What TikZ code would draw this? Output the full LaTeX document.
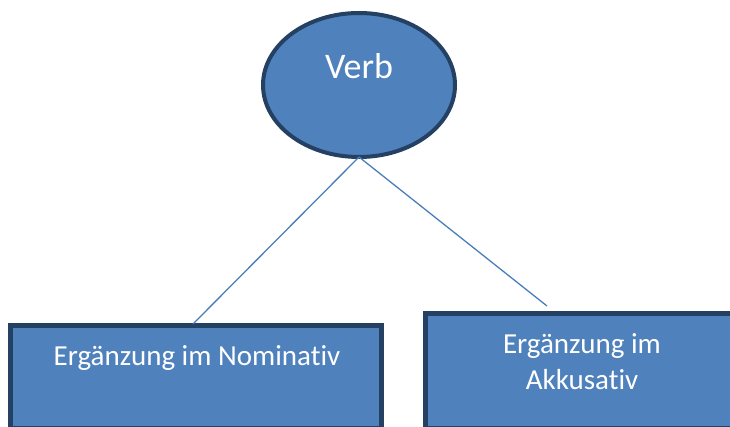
\documentclass[tikz,border=0pt]{standalone}
\usepackage{fontspec}
\setmainfont{Carlito}[Ligatures=NoCommon]
\usetikzlibrary{shapes.geometric}
\definecolor{fillblue}{RGB}{79,129,189}
\definecolor{edgeblue}{RGB}{36,64,98}
\definecolor{lineblue}{RGB}{74,126,187}
\newcommand{\nolig}{\kern0pt }
\begin{document}
\begin{tikzpicture}[x=1pt,y=-1pt,
  shapebox/.style={draw=edgeblue, fill=fillblue, inner sep=0pt, outer sep=0pt},
  lbl/.style={text=white, inner sep=0pt, anchor=base},
  connector/.style={draw=lineblue, line width=1.3pt}]
\useasboundingbox (0,0) rectangle (730,427);
\begin{scope}
\clip (0,0) rectangle (730,427);
\node[shapebox, ellipse, line width=4pt, minimum width=192pt, minimum height=144pt] (verb) at (359,85) {};
\coordinate (akkend) at (547,306);
\coordinate (nomjoin) at (193,324);
\node[shapebox, rectangle, line width=5pt, minimum width=371pt, minimum height=103pt] (nom) at (196,377) {};
\node[shapebox, rectangle, line width=5pt, minimum width=374.5pt, minimum height=115pt] (akk) at (612.75,371) {};
\draw[connector] (verb.south) -- (nomjoin);
\draw[connector] (verb.south) -- (akkend);
\node[lbl, font=\fontsize{36}{43}\selectfont] (verbtxt) at (359,79) {Verb};
\node[lbl, font=\fontsize{29}{35}\selectfont] (nomtxt) at (197,365) {Ergänzung im Nominat\nolig iv};
\node[lbl, font=\fontsize{29}{35}\selectfont] (akktxta) at (582,353) {Ergänzung im};
\node[lbl, font=\fontsize{29}{35}\selectfont] (akktxtb) at (582,389) {Akkusat\nolig iv};
\end{scope}
\end{tikzpicture}
\end{document}
